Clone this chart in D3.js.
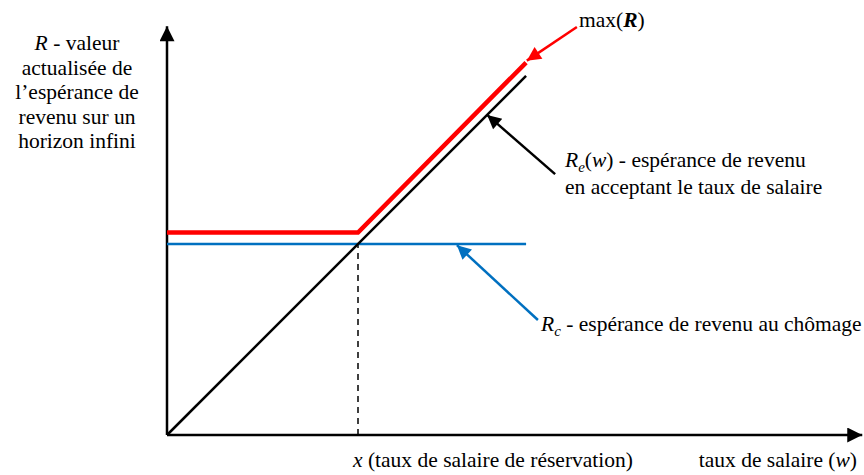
<!DOCTYPE html>
<html>
<head>
<meta charset="utf-8">
<script src="https://cdn.jsdelivr.net/npm/d3@7"></script>
<style>
  body { margin: 0; background: #fff; }
  svg text { font-family: "Liberation Serif", "Times New Roman", serif; font-size: 21.5px; fill: #000; }
</style>
</head>
<body>
<svg id="chart"></svg>
<script>
// data, in chart units (reservation wage x = 5, Rc = 5)
const reservation = 5;
const reLine = [[0, 0], [9.4, 9.4]];           // Re(w)
const rcLine = [[0, 5], [9.4, 5]];             // Rc
const maxRLine = [[0, 5.3], [5, 5.3], [9.4, 9.75]]; // max(R), drawn slightly above
const arrows = [
  { from: [10.73, 10.68], to: [9.42, 9.8], color: "#ff0000" },
  { from: [10.16, 6.83], to: [8.38, 8.38], color: "#000000" },
  { from: [9.71, 3.01], to: [7.59, 4.97], color: "#0070c0" }
];
const yLabel = ["valeur", "actualisée de", "l\u2019espérance de", "revenu sur un", "horizon infini"];

const width = 864, height = 475;
const margins = { left: 167, bottom: 40 };
const unit = 38.2;

const svg = d3.select("svg#chart").attr("width", width).attr("height", height);

const xScale = d3.scaleLinear().domain([0, 18.2]).range([margins.left, margins.left + 18.2 * unit]);
const yScale = d3.scaleLinear().domain([0, 10.7]).range([height - margins.bottom, height - margins.bottom - 10.7 * unit]);

const defs = svg.append("defs");
function marker(id, color, w, h) {
  defs.append("marker")
    .attr("id", id)
    .attr("viewBox", "0 0 10 10")
    .attr("refX", 10).attr("refY", 5)
    .attr("markerUnits", "userSpaceOnUse")
    .attr("markerWidth", w).attr("markerHeight", h)
    .attr("orient", "auto")
    .append("path")
    .attr("d", "M0,0 L10,5 L0,10 Z")
    .attr("fill", color);
}
marker("axisHead", "#000", 16, 15);
marker("head-000000", "#000", 16, 14);
marker("head-ff0000", "#ff0000", 16, 14);
marker("head-0070c0", "#0070c0", 16, 14);

const line = d3.line().x(d => xScale(d[0])).y(d => yScale(d[1]));

// axes
svg.append("path")
  .attr("d", line([[0, 0], [0, 10.7]]))
  .attr("stroke", "#000").attr("stroke-width", 2.5).attr("fill", "none")
  .attr("marker-end", "url(#axisHead)");
svg.append("path")
  .attr("d", line([[0, 0], [18.2, 0]]))
  .attr("stroke", "#000").attr("stroke-width", 2.5).attr("fill", "none")
  .attr("marker-end", "url(#axisHead)");

// dashed reservation wage line
svg.append("path")
  .attr("d", line([[reservation, 0], [reservation, 5]]))
  .attr("stroke", "#000").attr("stroke-width", 1.5)
  .attr("stroke-dasharray", "6 5").attr("fill", "none");

// curves
svg.append("path").attr("d", line(rcLine))
  .attr("stroke", "#0070c0").attr("stroke-width", 2.5).attr("fill", "none");
svg.append("path").attr("d", line(reLine))
  .attr("stroke", "#000").attr("stroke-width", 2.5).attr("fill", "none");
svg.append("path").attr("d", line(maxRLine))
  .attr("stroke", "#ff0000").attr("stroke-width", 4.5).attr("fill", "none")
  .attr("stroke-linejoin", "miter");

// annotation arrows
svg.append("g").selectAll("path")
  .data(arrows)
  .join("path")
  .attr("d", d => line([d.from, d.to]))
  .attr("stroke", d => d.color)
  .attr("stroke-width", 2.5)
  .attr("fill", "none")
  .attr("marker-end", d => `url(#head-${d.color.slice(1)})`);

// y axis label
const yl = svg.append("text").attr("text-anchor", "middle");
yLabel.forEach((t, i) => {
  const ts = yl.append("tspan").attr("x", 77).attr("y", 50 + i * 24.5);
  if (i === 0) {
    ts.append("tspan").attr("font-style", "italic").text("R");
    ts.append("tspan").text(" - " + t);
  } else {
    ts.text(t);
  }
});

// max(R)
const mx = svg.append("text").attr("x", 579).attr("y", 27);
mx.append("tspan").text("max(");
mx.append("tspan").attr("font-weight", "bold").attr("font-style", "italic").text("R");
mx.append("tspan").text(")");

// Re(w)
const re = svg.append("text").attr("x", 565).attr("y", 167);
re.append("tspan").attr("font-style", "italic").text("R");
re.append("tspan").attr("font-style", "italic").attr("font-size", 15).attr("dy", 5).text("e");
re.append("tspan").attr("dy", -5).text("(");
re.append("tspan").attr("font-style", "italic").text("w");
re.append("tspan").text(") - espérance de revenu");
svg.append("text").attr("x", 565).attr("y", 194).text("en acceptant le taux de salaire");

// Rc
const rc = svg.append("text").attr("x", 541).attr("y", 331);
rc.append("tspan").attr("font-style", "italic").text("R");
rc.append("tspan").attr("font-style", "italic").attr("font-size", 15).attr("dy", 5).text("c");
rc.append("tspan").attr("dy", -5).text(" - espérance de revenu au chômage");

// x axis labels
const xl = svg.append("text").attr("x", 353).attr("y", 467);
xl.append("tspan").attr("font-style", "italic").text("x");
xl.append("tspan").text(" (taux de salaire de réservation)");

const wl = svg.append("text").attr("x", 857).attr("y", 467).attr("text-anchor", "end");
wl.append("tspan").text("taux de salaire (");
wl.append("tspan").attr("font-style", "italic").text("w");
wl.append("tspan").text(")");
</script>
</body>
</html>
